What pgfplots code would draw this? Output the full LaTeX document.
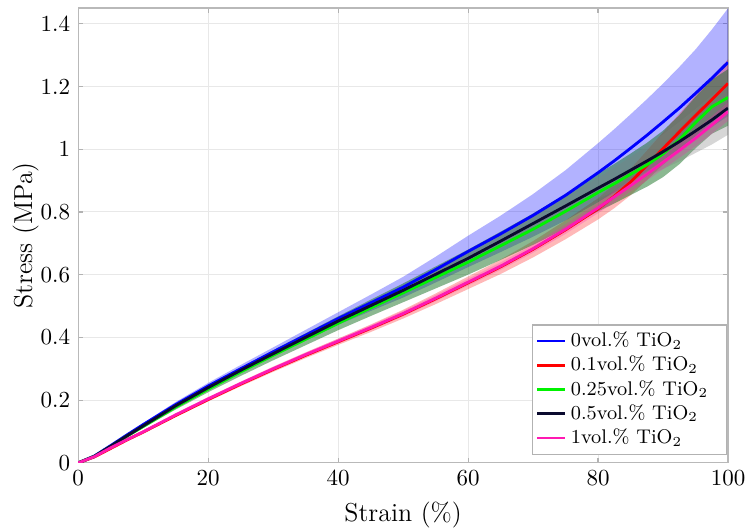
\documentclass[border=0pt]{standalone}
\usepackage{pgfplots}
\usepackage{pgfplotstable}
\pgfplotsset{compat=1.18}
\usepgfplotslibrary{fillbetween}

\definecolor{cblue}{rgb}{0,0,1}
\definecolor{cred}{rgb}{1,0,0}
\definecolor{cgreen}{rgb}{0,0.95,0}
\definecolor{cblack}{rgb}{0.04,0.04,0.18}
\definecolor{cpink}{rgb}{1,0.1,0.7}
\definecolor{bandgreen}{rgb}{0.05,0.42,0.1}

% legend text cells share one width, leaving room on the right
\newcommand{\lent}[1]{\makebox[64pt][l]{#1}}

% mean stress (MPa) and half-width of the scatter band for each TiO2 content
% b: 0vol.%, r: 0.1vol.%, g: 0.25vol.%, k: 0.5vol.%, m: 1vol.%
\pgfplotstableread{
x     b      bh     r      rh     g      gh     k      kh     m      mh
0     0      0      0      0      0      0      0      0      0      0
2.5   0.022  0.001  0.019  0.001  0.021  0.001  0.021  0.001  0.020  0.001
5     0.055  0.003  0.046  0.002  0.052  0.003  0.053  0.002  0.048  0.002
7.5   0.089  0.004  0.073  0.003  0.085  0.004  0.086  0.003  0.074  0.003
10    0.122  0.005  0.098  0.004  0.116  0.005  0.118  0.004  0.099  0.004
15    0.186  0.008  0.151  0.005  0.178  0.008  0.182  0.005  0.153  0.005
20    0.245  0.010  0.202  0.006  0.235  0.010  0.240  0.006  0.204  0.006
25    0.300  0.012  0.251  0.007  0.290  0.013  0.295  0.007  0.253  0.006
30    0.354  0.014  0.298  0.008  0.343  0.016  0.348  0.008  0.300  0.007
35    0.407  0.017  0.343  0.009  0.394  0.019  0.400  0.009  0.345  0.007
40    0.460  0.020  0.386  0.010  0.445  0.022  0.452  0.010  0.388  0.008
45    0.510  0.026  0.429  0.012  0.494  0.026  0.501  0.011  0.431  0.008
50    0.560  0.033  0.474  0.014  0.542  0.030  0.550  0.012  0.476  0.009
55    0.616  0.041  0.523  0.017  0.591  0.035  0.601  0.014  0.525  0.010
60    0.674  0.050  0.574  0.020  0.640  0.040  0.652  0.016  0.576  0.011
65    0.730  0.058  0.625  0.023  0.692  0.045  0.707  0.019  0.627  0.012
70    0.789  0.068  0.681  0.026  0.745  0.050  0.763  0.023  0.683  0.013
75    0.853  0.080  0.743  0.030  0.802  0.055  0.819  0.028  0.745  0.015
80    0.925  0.094  0.810  0.034  0.862  0.060  0.876  0.034  0.813  0.017
82.5  0.963  0.101  0.850  0.038  0.890  0.063  0.904  0.038  0.848  0.018
85    1.003  0.108  0.895  0.042  0.920  0.066  0.933  0.042  0.884  0.019
87.5  1.044  0.115  0.948  0.047  0.950  0.070  0.962  0.048  0.920  0.020
90    1.087  0.122  1.002  0.052  0.985  0.074  0.992  0.055  0.958  0.022
92.5  1.131  0.131  1.055  0.058  1.030  0.078  1.024  0.063  0.996  0.024
95    1.178  0.140  1.107  0.064  1.085  0.082  1.058  0.070  1.035  0.026
97.5  1.226  0.155  1.158  0.070  1.135  0.086  1.093  0.078  1.077  0.028
100   1.277  0.172  1.210  0.076  1.165  0.090  1.131  0.085  1.120  0.030
}\datatable

\begin{document}
\begin{tikzpicture}
\begin{axis}[
  name=main,
  scale only axis,
  width=282.6pt, height=197.8pt,
  xmin=0, xmax=100, ymin=0, ymax=1.45,
  xtick={0,20,...,100},
  ytick={0,0.2,...,1.4},
  yticklabels={0,0.2,0.4,0.6,0.8,1,1.2,1.4},
  grid=major,
  major grid style={gray!18, line width=0.4pt},
  axis line style={gray!55, line width=0.5pt},
  tick style={gray!60, line width=0.5pt},
  tick align=inside,
  major tick length=2pt,
  tick label style={font=\fontsize{10}{12}\selectfont},
  xlabel={Strain (\%)},
  ylabel={Stress (MPa)},
  label style={font=\fontsize{11.3}{13}\selectfont},
  xlabel style={yshift=0pt},
  ylabel style={yshift=-6pt},
  legend cell align=left,
  legend style={
    at={(rel axis cs:0.998,0.018)}, anchor=south east,
    font=\fontsize{8.6}{10.8}\selectfont,
    draw=gray!60, line width=0.5pt,
    inner xsep=1.5pt, inner ysep=1pt,
    row sep=-1.4pt,
  },
  legend image code/.code={\draw[#1, line width=1.2pt] (0cm,0cm) -- (0.42cm,0cm);},
]

% each series: its scatter band, then its mean curve; later bands cover earlier curves
\addplot[name path=bu, draw=none, forget plot] table[x=x, y expr=\thisrow{b}+\thisrow{bh}] {\datatable};
\addplot[name path=bl, draw=none, forget plot] table[x=x, y expr=\thisrow{b}-\thisrow{bh}] {\datatable};
\addplot[fill=cblue, fill opacity=0.3, draw=none, forget plot] fill between[of=bu and bl];
\addplot[cblue, line width=1.25pt] table[x=x, y=b] {\datatable};
\addlegendentry{\lent{0vol.\% TiO$_2$}}

\addplot[name path=ru, draw=none, forget plot] table[x=x, y expr=\thisrow{r}+\thisrow{rh}] {\datatable};
\addplot[name path=rl, draw=none, forget plot] table[x=x, y expr=\thisrow{r}-\thisrow{rh}] {\datatable};
\addplot[fill=cred, fill opacity=0.28, draw=none, forget plot] fill between[of=ru and rl];
\addplot[cred, line width=1.25pt] table[x=x, y=r] {\datatable};
\addlegendentry{\lent{0.1vol.\% TiO$_2$}}

\addplot[name path=gu, draw=none, forget plot] table[x=x, y expr=\thisrow{g}+\thisrow{gh}] {\datatable};
\addplot[name path=gl, draw=none, forget plot] table[x=x, y expr=\thisrow{g}-\thisrow{gh}] {\datatable};
\addplot[fill=bandgreen, fill opacity=0.48, draw=none, forget plot] fill between[of=gu and gl];
\addplot[cgreen, line width=1.25pt] table[x=x, y=g] {\datatable};
\addlegendentry{\lent{0.25vol.\% TiO$_2$}}

\addplot[name path=ku, draw=none, forget plot] table[x=x, y expr=\thisrow{k}+\thisrow{kh}] {\datatable};
\addplot[name path=kl, draw=none, forget plot] table[x=x, y expr=\thisrow{k}-\thisrow{kh}] {\datatable};
\addplot[fill=gray, fill opacity=0.32, draw=none, forget plot] fill between[of=ku and kl];
\addplot[cblack, line width=1.25pt] table[x=x, y=k] {\datatable};
\addlegendentry{\lent{0.5vol.\% TiO$_2$}}

\addplot[name path=mu, draw=none, forget plot] table[x=x, y expr=\thisrow{m}+\thisrow{mh}] {\datatable};
\addplot[name path=ml, draw=none, forget plot] table[x=x, y expr=\thisrow{m}-\thisrow{mh}] {\datatable};
\addplot[fill=cpink, fill opacity=0.25, draw=none, forget plot] fill between[of=mu and ml];
\addplot[cpink, line width=1.25pt] table[x=x, y=m] {\datatable};
\addlegendentry{\lent{1vol.\% TiO$_2$}}

\end{axis}
% fixed margins around the axis box
\pgfresetboundingbox
\path ([xshift=-34pt, yshift=-28.7pt]main.south west) rectangle ([xshift=8.7pt, yshift=3.5pt]main.north east);
\end{tikzpicture}
\end{document}
